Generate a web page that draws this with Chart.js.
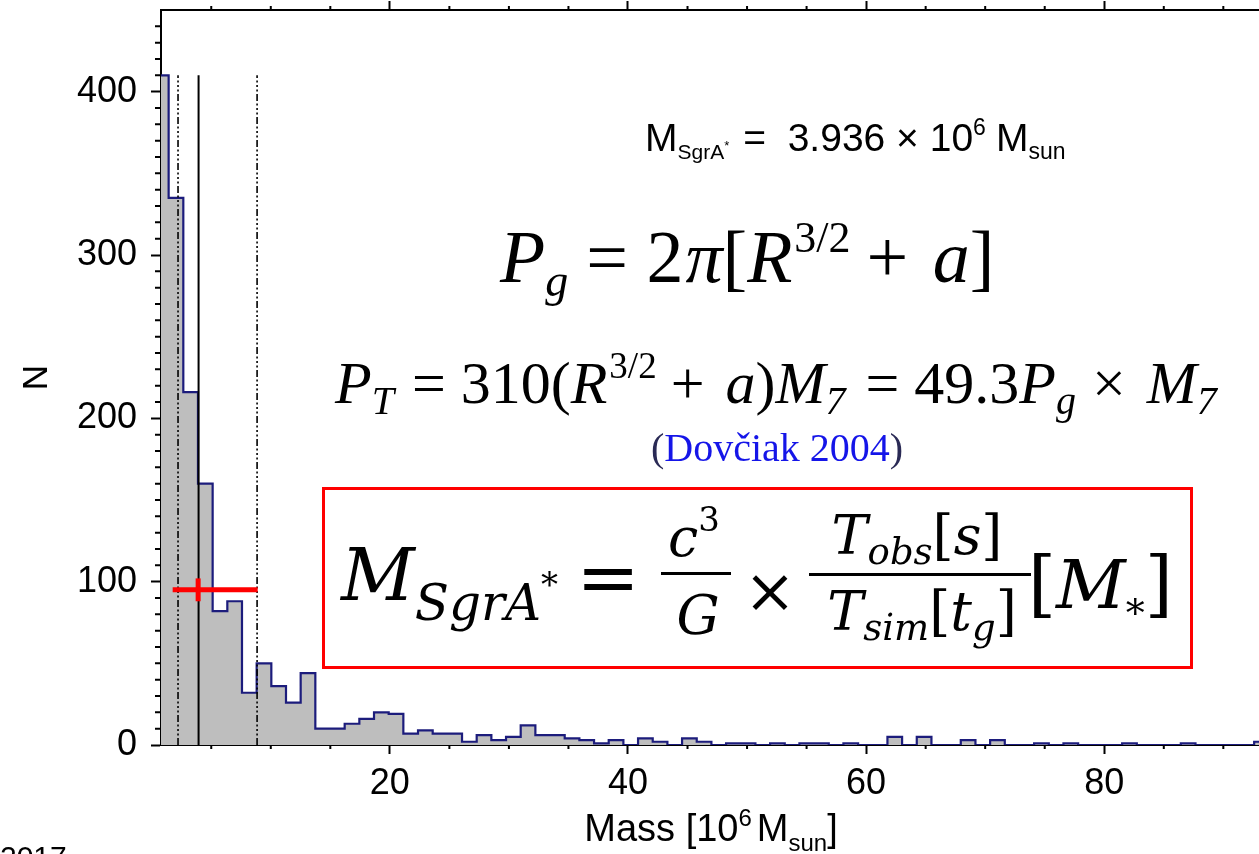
<!DOCTYPE html>
<html>
<head>
<meta charset="utf-8">
<script src="https://cdn.jsdelivr.net/npm/chart.js@4.4.1/dist/chart.umd.min.js"></script>
<style>
  html, body { margin: 0; padding: 0; background: #fff; overflow: hidden; }
  #wrap { width: 1300px; height: 854px; }
</style>
</head>
<body>
<div id="wrap"><canvas id="canvas1"></canvas></div>
<script>
// histogram bins: left edge of the first bin and common bin width (10^6 Msun)
let binStart = 0.19;
let binWidth = 1.232;

// number of simulations per mass bin
let counts = [
  410, 335, 216, 160, 82, 88, 32, 50, 36, 26,
  44, 10, 10, 13, 16, 20, 19, 7, 9, 7,
  7, 2, 6, 3, 5, 12, 6, 6, 4, 3,
  1, 3, 0, 4, 2, 0, 4, 2, 0, 1,
  1, 0, 1, 0, 1, 1, 0, 1, 0, 0,
  5, 0, 5, 0, 0, 3, 0, 3, 0, 0,
  1, 0, 1, 0, 0, 0, 1, 0, 0, 0,
  1, 0, 0, 0, 0, 2
];

// best mass and the dash-dot interval around it
let massBest = 3.936;
let massLow = 2.21;
let massHigh = 8.85;
let lineTop = 410;

// red error bar
let errX = [1.76, 8.9];
let errCenter = 3.9;
let errY = 95;
let errYRange = [88, 102];

// tick labels
let xLabels = [20, 40, 60, 80];
let yLabels = [0, 100, 200, 300, 400];
let xRange = [0.78, 95.6];
let yRange = [0, 450];

// histogram outline points (stepped, value held until the next edge)
let histPoints = [];
for (let i = 0; i < counts.length; i++) {
  histPoints.push({x: binStart + i * binWidth, y: counts[i]});
}
histPoints.push({x: binStart + counts.length * binWidth, y: counts[counts.length - 1]});

const SANS = 'Liberation Sans, Arial, sans-serif';
const SERIF = 'Liberation Serif, Times New Roman, serif';
const MATH = 'DejaVu Serif, serif';

function fnt(size, family, italic) {
  return (italic ? 'italic ' : '') + size + 'px ' + family;
}

// draws a row of text pieces (sub/superscripts via dy), aligned left or centred
function drawRuns(ctx, runs, x, y, align) {
  let total = 0;
  runs.forEach(function(r) {
    ctx.font = r.font;
    r.w = ctx.measureText(r.t).width + (r.gap || 0);
    total += r.w;
  });
  let cx = align === 'center' ? x - total / 2 : x;
  runs.forEach(function(r) {
    ctx.font = r.font;
    ctx.fillStyle = r.color || '#000';
    ctx.fillText(r.t, cx, y + (r.dy || 0));
    cx += r.w;
  });
}

// keep the frame fixed: no extra room reserved for edge labels
function noEdgePadding(s) {
  s.paddingTop = 0;
  s.paddingBottom = 0;
  s.paddingLeft = 0;
  s.paddingRight = 0;
}

// minor tick marks on all visible sides of the frame
const minorTicks = {
  id: 'minorTicks',
  afterDraw(chart) {
    const ctx = chart.ctx;
    const a = chart.chartArea;
    const xs = chart.scales.x, ys = chart.scales.y;
    ctx.save();
    ctx.strokeStyle = '#000';
    ctx.lineWidth = 2;
    ctx.beginPath();
    for (let v = 5; v < xRange[1]; v += 5) {
      if (v % 20 === 0 || v < xRange[0]) continue;
      const px = xs.getPixelForValue(v);
      ctx.moveTo(px, a.bottom); ctx.lineTo(px, a.bottom + 4);
      ctx.moveTo(px, a.top); ctx.lineTo(px, a.top - 4);
    }
    for (let v = 10; v < yRange[1]; v += 10) {
      if (v % 100 === 0) continue;
      const py = ys.getPixelForValue(v);
      ctx.moveTo(a.left, py); ctx.lineTo(a.left - 6, py);
    }
    ctx.stroke();
    ctx.restore();
  }
};

// formulas, labels and the boxed mass relation
const annotations = {
  id: 'annotations',
  afterDraw(chart) {
    const ctx = chart.ctx;
    ctx.save();
    ctx.textBaseline = 'alphabetic';
    ctx.textAlign = 'left';

    // x axis title
    drawRuns(ctx, [
      {t: 'Mass [10', font: fnt(38, SANS)},
      {t: '6', font: fnt(24, SANS), dy: -15, gap: 5},
      {t: 'M', font: fnt(38, SANS)},
      {t: 'sun', font: fnt(24, SANS), dy: 10},
      {t: ']', font: fnt(38, SANS)}
    ], 711, 841, 'center');

    // clipped caption at the lower left
    ctx.font = fnt(30, SANS);
    ctx.fillStyle = '#000';
    ctx.fillText('2017', 0, 867);

    // mass value
    drawRuns(ctx, [
      {t: 'M', font: fnt(39, SANS)},
      {t: 'SgrA', font: fnt(21, SANS), dy: 8},
      {t: '*', font: fnt(13, SANS), dy: -1, gap: 14},
      {t: '=  3.936 \u00d7 10', font: fnt(39, SANS)},
      {t: '6', font: fnt(23, SANS), dy: -16, gap: 10},
      {t: 'M', font: fnt(39, SANS)},
      {t: 'sun', font: fnt(23, SANS), dy: 8}
    ], 645, 151, 'left');

    // P_g
    drawRuns(ctx, [
      {t: 'P', font: fnt(74, SERIF, true)},
      {t: 'g', font: fnt(46, SERIF, true), dy: 14, gap: 18},
      {t: '= 2', font: fnt(74, SERIF), gap: 2},
      {t: '\u03c0', font: fnt(74, SERIF, true)},
      {t: '[', font: fnt(74, SERIF)},
      {t: 'R', font: fnt(74, SERIF, true), gap: 2},
      {t: '3/2', font: fnt(44, SERIF), dy: -30, gap: 16},
      {t: '+ ', font: fnt(74, SERIF), gap: 6},
      {t: 'a', font: fnt(74, SERIF, true)},
      {t: ']', font: fnt(74, SERIF)}
    ], 500, 282, 'left');

    // P_T
    drawRuns(ctx, [
      {t: 'P', font: fnt(60, SERIF, true)},
      {t: 'T', font: fnt(40, SERIF, true), dy: 11, gap: 18},
      {t: '= 310(', font: fnt(60, SERIF)},
      {t: 'R', font: fnt(60, SERIF, true), gap: 2},
      {t: '3/2', font: fnt(37, SERIF), dy: -25, gap: 14},
      {t: '+ ', font: fnt(60, SERIF), gap: 6},
      {t: 'a', font: fnt(60, SERIF, true)},
      {t: ')', font: fnt(60, SERIF)},
      {t: 'M', font: fnt(60, SERIF, true)},
      {t: '7', font: fnt(40, SERIF, true), dy: 11, gap: 20},
      {t: '= 49.3', font: fnt(60, SERIF)},
      {t: 'P', font: fnt(60, SERIF, true)},
      {t: 'g', font: fnt(40, SERIF, true), dy: 11, gap: 16},
      {t: '\u00d7 ', font: fnt(60, SERIF), gap: 6},
      {t: 'M', font: fnt(60, SERIF, true)},
      {t: '7', font: fnt(40, SERIF, true), dy: 11}
    ], 335, 403, 'left');

    // reference
    drawRuns(ctx, [
      {t: '(', font: fnt(40, SERIF), color: '#2a2a55'},
      {t: 'Dov\u010diak 2004', font: fnt(40, SERIF), color: '#1515e8'},
      {t: ')', font: fnt(40, SERIF), color: '#2a2a55'}
    ], 777, 461, 'center');

    // red frame
    ctx.strokeStyle = '#ff0000';
    ctx.lineWidth = 3;
    ctx.strokeRect(323.5, 488.5, 868, 179);

    // boxed relation
    drawRuns(ctx, [
      {t: 'M', font: fnt(72, MATH, true)},
      {t: 'SgrA', font: fnt(50, MATH, true), dy: 20},
      {t: '*', font: fnt(34, MATH), dy: -4}
    ], 341, 600, 'left');
    drawRuns(ctx, [{t: '=', font: fnt(76, MATH)}], 608, 603, 'center');

    drawRuns(ctx, [
      {t: 'c', font: fnt(54, MATH, true)},
      {t: '3', font: fnt(34, MATH), dy: -25}
    ], 694, 556, 'center');
    ctx.fillRect(661, 572, 70, 3);
    drawRuns(ctx, [{t: 'G', font: fnt(54, MATH, true)}], 698, 634, 'center');

    drawRuns(ctx, [{t: '\u00d7', font: fnt(62, MATH)}], 770, 612, 'center');

    drawRuns(ctx, [
      {t: 'T', font: fnt(54, MATH, true)},
      {t: 'obs', font: fnt(37, MATH, true), dy: 10},
      {t: '[', font: fnt(54, MATH)},
      {t: 's', font: fnt(54, MATH, true)},
      {t: ']', font: fnt(54, MATH)}
    ], 917, 554, 'center');
    ctx.fillRect(809, 573, 222, 3);
    drawRuns(ctx, [
      {t: 'T', font: fnt(54, MATH, true)},
      {t: 'sim', font: fnt(37, MATH, true), dy: 10},
      {t: '[', font: fnt(54, MATH)},
      {t: 't', font: fnt(54, MATH, true)},
      {t: 'g', font: fnt(37, MATH, true), dy: 10},
      {t: ']', font: fnt(54, MATH)}
    ], 922, 630, 'center');

    drawRuns(ctx, [
      {t: '[', font: fnt(72, MATH)},
      {t: 'M', font: fnt(68, MATH, true)},
      {t: '*', font: fnt(38, MATH), dy: 18},
      {t: ']', font: fnt(72, MATH)}
    ], 1028, 608, 'left');

    ctx.restore();
  }
};

let options = {
  type: 'line',
  data: {
    datasets: [
      {
        // red error bar, horizontal part
        data: [{x: errX[0], y: errY}, {x: errX[1], y: errY}],
        borderColor: '#ff0000',
        borderWidth: 5,
        pointRadius: 0,
        order: 0
      },
      {
        // red error bar, vertical part
        data: [{x: errCenter, y: errYRange[0]}, {x: errCenter, y: errYRange[1]}],
        borderColor: '#ff0000',
        borderWidth: 5,
        pointRadius: 0,
        order: 0
      },
      {
        data: [{x: massBest, y: 0}, {x: massBest, y: lineTop}],
        borderColor: '#000',
        borderWidth: 2,
        pointRadius: 0,
        order: 1
      },
      {
        data: [{x: massLow, y: 0}, {x: massLow, y: lineTop}],
        borderColor: '#000',
        borderWidth: 1.6,
        borderDash: [7, 2.5, 2, 2.5, 2, 2.5, 2, 2.5],
        pointRadius: 0,
        order: 1
      },
      {
        data: [{x: massHigh, y: 0}, {x: massHigh, y: lineTop}],
        borderColor: '#000',
        borderWidth: 1.6,
        borderDash: [7, 2.5, 2, 2.5, 2, 2.5, 2, 2.5],
        pointRadius: 0,
        order: 1
      },
      {
        // the histogram itself
        data: histPoints,
        stepped: true,
        fill: 'origin',
        backgroundColor: '#bebebe',
        borderColor: '#1c1c7c',
        borderWidth: 2.2,
        pointRadius: 0,
        order: 3
      }
    ]
  },
  options: {
    responsive: true,
    maintainAspectRatio: false,
    animation: false,
    events: [],
    layout: { padding: { left: 0, right: 10, top: 0, bottom: 0 } },
    plugins: {
      legend: { display: false },
      tooltip: { enabled: false }
    },
    scales: {
      x: {
        type: 'linear',
        position: 'bottom',
        min: xRange[0],
        max: xRange[1],
        afterBuildTicks: function(s) { s.ticks = xLabels.map(v => ({value: v})); },
        afterFit: function(s) { s.height = 109; noEdgePadding(s); },
        grid: { drawOnChartArea: false, tickLength: 9, tickWidth: 2, tickColor: '#000' },
        border: { color: '#000', width: 2 },
        ticks: { font: { family: SANS, size: 36 }, color: '#000', padding: 8, maxRotation: 0 }
      },
      xTop: {
        type: 'linear',
        position: 'top',
        min: xRange[0],
        max: xRange[1],
        afterBuildTicks: function(s) { s.ticks = xLabels.map(v => ({value: v})); },
        afterFit: function(s) { s.height = 10; noEdgePadding(s); },
        grid: { drawOnChartArea: false, tickLength: 9, tickWidth: 2, tickColor: '#000' },
        border: { color: '#000', width: 2 },
        ticks: { display: false }
      },
      y: {
        type: 'linear',
        min: yRange[0],
        max: yRange[1],
        afterBuildTicks: function(s) { s.ticks = yLabels.map(v => ({value: v})); },
        afterFit: function(s) { s.width = 161; noEdgePadding(s); },
        grid: { drawOnChartArea: false, tickLength: 10, tickWidth: 2, tickColor: '#000' },
        border: { color: '#000', width: 2 },
        ticks: { font: { family: SANS, size: 36 }, color: '#000', padding: 14 },
        title: {
          display: true,
          text: 'N',
          color: '#000',
          font: { family: SANS, size: 35 },
          padding: { top: 16, bottom: 0 }
        }
      }
    }
  },
  plugins: [minorTicks, annotations]
};

let chart = new Chart(document.getElementById('canvas1'), options);
</script>
</body>
</html>
